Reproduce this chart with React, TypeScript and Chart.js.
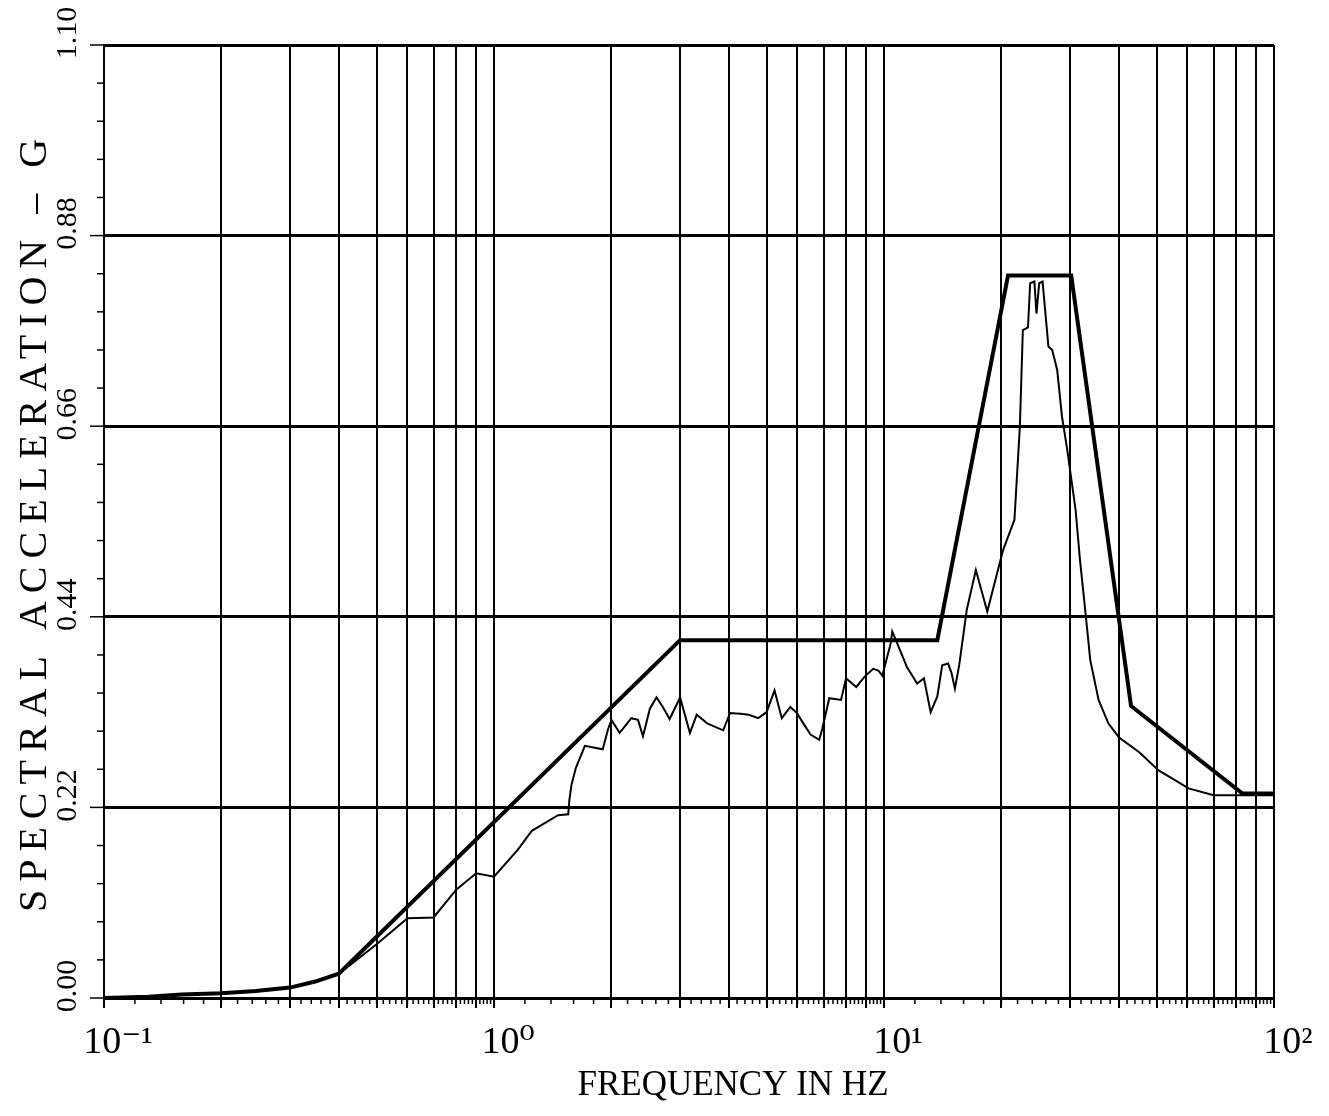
import React, { useEffect, useRef } from "react";
import { Chart, registerables } from "chart.js";

Chart.register(...registerables);

// Design envelope (thick line): frequency in Hz, spectral acceleration in g
const ENV_FREQ = [0.1, 0.13, 0.158, 0.2, 0.245, 0.3, 0.348, 0.4, 3.0, 13.7, 20.8, 30.2, 43, 83, 100];
const ENV_G = [0.0, 0.0015, 0.004, 0.0055, 0.008, 0.012, 0.019, 0.028, 0.413, 0.413, 0.834, 0.834, 0.337, 0.236, 0.236];

// Computed response spectrum (thin line)
const RESP_FREQ = [
  0.1, 0.13, 0.158, 0.2, 0.245, 0.3, 0.348, 0.4, 0.5, 0.6, 0.7, 0.8, 0.9, 1.0, 1.15, 1.25, 1.46, 1.55,
  1.56, 1.58, 1.62, 1.71, 1.9, 1.96, 2.0, 2.1, 2.25, 2.34, 2.41, 2.51, 2.61, 2.71, 2.82, 2.95, 3.0,
  3.18, 3.31, 3.52, 3.87, 4.03, 4.28, 4.5, 4.76, 5.0, 5.24, 5.47, 5.75, 5.98, 6.17, 6.48, 6.82, 6.95,
  7.24, 7.76, 7.99, 8.49, 8.92, 9.38, 9.67, 9.9, 10.4, 10.5, 10.8, 11.45, 12.16, 12.66, 13.17, 13.7,
  14.1, 14.6, 14.9, 15.2, 15.6, 16.3, 17.2, 18.4, 20.2, 21.6, 22.3, 22.7, 23.4, 23.7, 24.3, 24.6, 25.0,
  25.5, 26.4, 27.0, 27.8, 28.6, 29.5, 31.0, 31.8, 32.8, 33.8, 35.5, 37.6, 40, 45.3, 50.5, 60.4, 70, 84, 100,
];
const RESP_G = [
  0.0, 0.0015, 0.004, 0.0055, 0.008, 0.012, 0.019, 0.028, 0.062, 0.092, 0.093, 0.125, 0.144, 0.14, 0.171, 0.193, 0.211, 0.212,
  0.228, 0.246, 0.265, 0.291, 0.287, 0.31, 0.321, 0.306, 0.323, 0.321, 0.302, 0.334, 0.347, 0.336, 0.322, 0.34, 0.347,
  0.306, 0.327, 0.317, 0.309, 0.329, 0.328, 0.327, 0.323, 0.33, 0.355, 0.323, 0.336, 0.329, 0.319, 0.304, 0.298, 0.311,
  0.346, 0.344, 0.369, 0.359, 0.371, 0.38, 0.378, 0.372, 0.409, 0.423, 0.41, 0.382, 0.363, 0.369, 0.33, 0.348,
  0.384, 0.386, 0.375, 0.357, 0.385, 0.448, 0.494, 0.446, 0.517, 0.552, 0.659, 0.771, 0.774, 0.825, 0.827, 0.79, 0.825,
  0.827, 0.752, 0.748, 0.725, 0.671, 0.633, 0.563, 0.506, 0.448, 0.39, 0.344, 0.317, 0.301, 0.283, 0.263, 0.242, 0.234, 0.234, 0.234,
];

// Axes
const X_GRID = [
  0.1, 0.2, 0.3, 0.4, 0.5, 0.6, 0.7, 0.8, 0.9,
  1, 2, 3, 4, 5, 6, 7, 8, 9,
  10, 20, 30, 40, 50, 60, 70, 80, 90, 100,
];
const X_LABEL_VALUES = [0.1, 1, 10, 100];
const X_LABEL_TEXT = ["10\u207B\u00B9", "10\u2070", "10\u00B9", "10\u00B2"];
const Y_TICKS = [0, 0.22, 0.44, 0.66, 0.88, 1.1];
const Y_LABELS = ["0.00", "0.22", "0.44", "0.66", "0.88", "1.10"];
const Y_MINOR_STEP = 0.044;
const X_TITLE = "FREQUENCY IN HZ";
const Y_TITLE = "SPECTRAL ACCELERATION \u2013 G";

const FONT = '"Liberation Serif", "DejaVu Serif", serif';

const decorPlugin = {
  id: "decor",
  afterDraw(chart: any) {
    const { ctx, chartArea, scales } = chart;
    const xs = scales.x;
    const ys = scales.y;
    ctx.save();
    ctx.strokeStyle = "#000";
    ctx.fillStyle = "#000";
    // minor ticks below the frequency axis
    ctx.lineWidth = 1.5;
    for (const d of [0.1, 1, 10]) {
      for (let k = 10; k < 100; k += 2) {
        const v = (d * k) / 10;
        const px = xs.getPixelForValue(v);
        ctx.beginPath();
        ctx.moveTo(px, chartArea.bottom);
        ctx.lineTo(px, chartArea.bottom + 6);
        ctx.stroke();
      }
    }
    // minor ticks left of the acceleration axis
    for (let i = 0; i * Y_MINOR_STEP <= 1.1 + 1e-9; i++) {
      const py = ys.getPixelForValue(i * Y_MINOR_STEP);
      const major = i % 5 === 0;
      ctx.beginPath();
      ctx.moveTo(chartArea.left - (major ? 14 : 7), py);
      ctx.lineTo(chartArea.left, py);
      ctx.stroke();
    }
    // y tick labels (rotated)
    ctx.font = `30px ${FONT}`;
    ctx.textAlign = "center";
    ctx.textBaseline = "middle";
    Y_TICKS.forEach((v, i) => {
      ctx.save();
      ctx.translate(chartArea.left - 36, ys.getPixelForValue(v) - 12);
      ctx.rotate(-Math.PI / 2);
      ctx.fillText(Y_LABELS[i], 0, 0);
      ctx.restore();
    });
    // y title
    ctx.save();
    ctx.translate(35, (chartArea.top + chartArea.bottom) / 2);
    ctx.rotate(-Math.PI / 2);
    ctx.font = `40px ${FONT}`;
    (ctx as any).letterSpacing = "8px";
    ctx.textAlign = "center";
    ctx.textBaseline = "middle";
    ctx.fillText(Y_TITLE, 0, 0);
    ctx.restore();
    // x title
    ctx.font = `35px ${FONT}`;
    ctx.textAlign = "center";
    ctx.textBaseline = "middle";
    ctx.fillText(X_TITLE, chartArea.left + 629, 1086);
    ctx.restore();
  },
};

export default function App() {
  const ref = useRef<HTMLCanvasElement | null>(null);
  useEffect(() => {
    document.body.style.margin = "0";
    const canvas = ref.current;
    if (!canvas) return;
    const chart = new Chart(canvas, {
      type: "line",
      data: {
        datasets: [
          {
            label: "Envelope",
            data: ENV_FREQ.map((f, i) => ({ x: f, y: ENV_G[i] })),
            borderColor: "#000",
            borderWidth: 4,
            pointRadius: 0,
            fill: false,
            tension: 0,
          },
          {
            label: "Response",
            data: RESP_FREQ.map((f, i) => ({ x: f, y: RESP_G[i] })),
            borderColor: "#000",
            borderWidth: 2,
            pointRadius: 0,
            fill: false,
            tension: 0,
          },
        ],
      },
      options: {
        animation: false,
        responsive: false,
        devicePixelRatio: 1,
        layout: { padding: { left: 0, right: 55, top: 45, bottom: 0 } },
        plugins: { legend: { display: false }, tooltip: { enabled: false } },
        scales: {
          x: {
            type: "logarithmic",
            min: 0.1,
            max: 100,
            afterBuildTicks: (scale: any) => {
              scale.ticks = X_GRID.map((v) => ({ value: v }));
            },
            afterFit: (scale: any) => {
              scale.height = 118;
            },
            grid: { color: "#000", lineWidth: 2, drawTicks: true, tickLength: 10, tickColor: "#000" },
            border: { display: true, color: "#000", width: 3 },
            ticks: {
              autoSkip: false,
              maxRotation: 0,
              minRotation: 0,
              padding: 12,
              labelOffset: 14,
              color: "#000",
              font: { family: FONT, size: 38 },
              callback: (value: any) => {
                const i = X_LABEL_VALUES.findIndex((v) => Math.abs(Math.log10(v) - Math.log10(Number(value))) < 1e-6);
                return i >= 0 ? X_LABEL_TEXT[i] : "";
              },
            },
          },
          y: {
            type: "linear",
            min: 0,
            max: 1.1,
            afterBuildTicks: (scale: any) => {
              scale.ticks = Y_TICKS.map((v) => ({ value: v }));
            },
            afterFit: (scale: any) => {
              scale.width = 104;
            },
            grid: { color: "#000", lineWidth: 3, drawTicks: false },
            border: { display: true, color: "#000", width: 2 },
            ticks: { display: false },
          },
        },
      },
      plugins: [decorPlugin],
    } as any);
    return () => chart.destroy();
  }, []);
  return (
    <div style={{ width: 1329, height: 1116, background: "#fff" }}>
      <canvas ref={ref} width={1329} height={1116} style={{ display: "block" }} />
    </div>
  );
}
